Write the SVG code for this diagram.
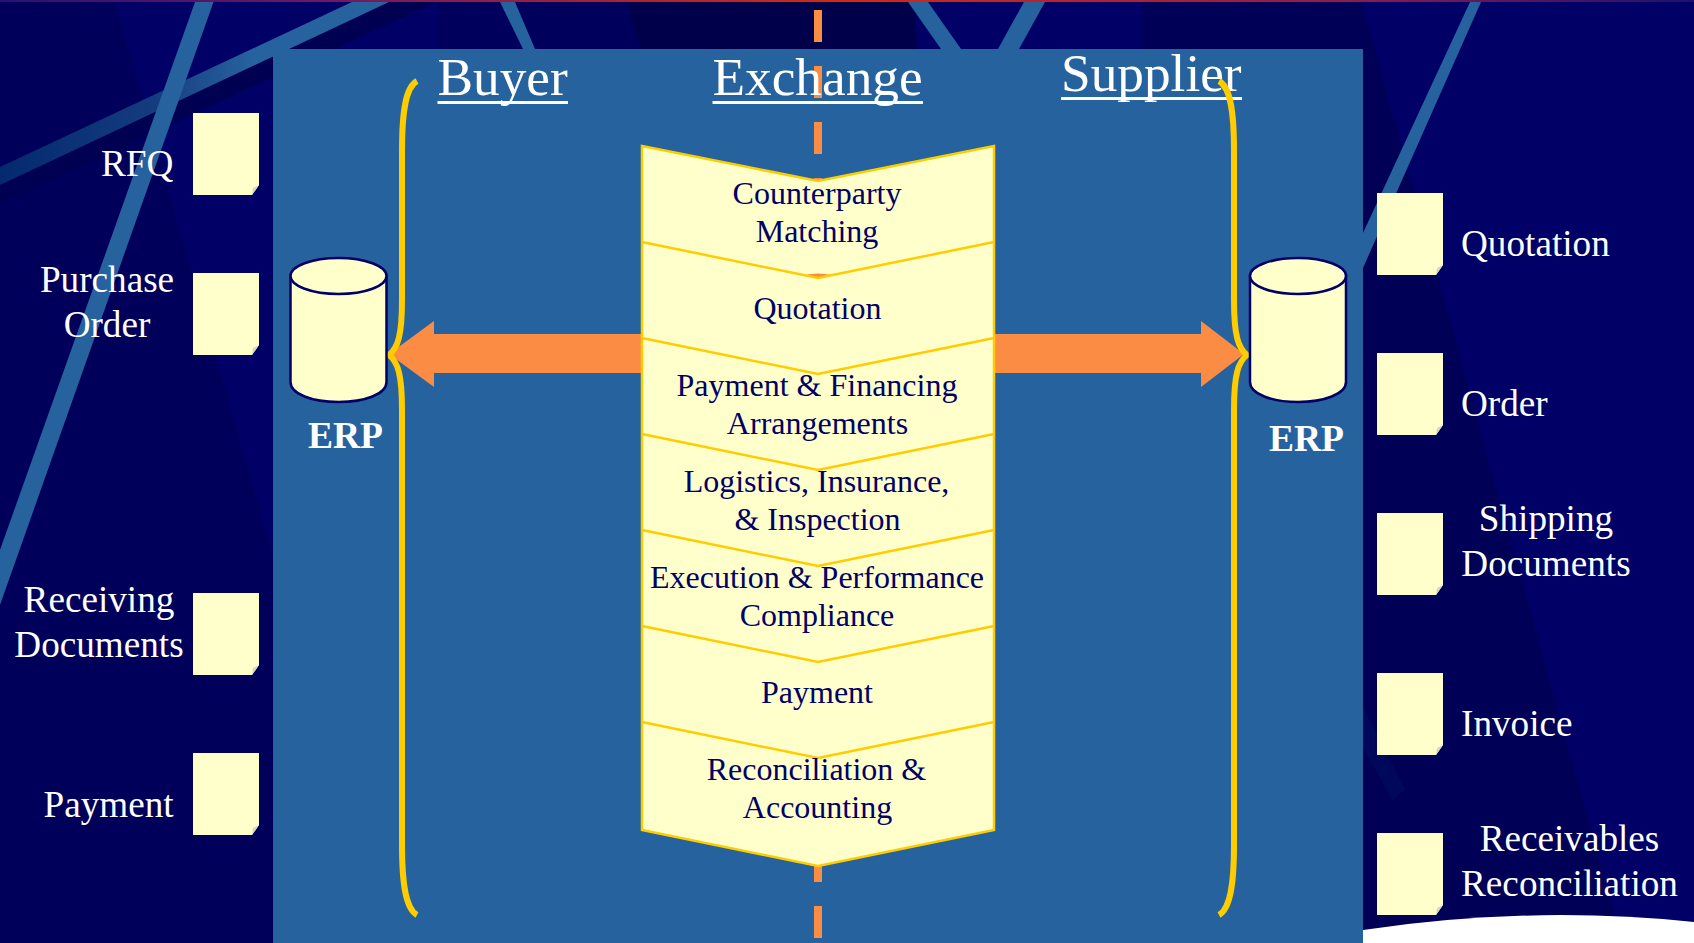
<svg xmlns="http://www.w3.org/2000/svg" xmlns:xlink="http://www.w3.org/1999/xlink" width="1694" height="943" viewBox="0 0 1694 943">
<style>
text{font-family:"Liberation Serif","Times New Roman",serif}
.lab{font-size:37.200px;fill:#fff}
.hd{font-size:53.300px;fill:#fff}
.ul{stroke:#fff;stroke-width:3}
.erp{font-size:37.500px;font-weight:bold;fill:#fff}
.st{font-size:32px;fill:#000066;text-anchor:middle}
.m{text-anchor:middle}
.bar{fill:#26639e}
.sep{fill:none;stroke:#ffcc00;stroke-width:2.5}
.brace{fill:none;stroke:#ffcc00;stroke-width:6;stroke-linecap:butt}
.cyl{fill:#ffffcc;stroke:#000066;stroke-width:2.5}
.arrow{fill:#fb8c44}
</style>
<defs>
<linearGradient id="strip" x1="0" x2="1" y1="0" y2="0"><stop offset="0" stop-color="#2a1070"/><stop offset=".2" stop-color="#701a60"/><stop offset=".5" stop-color="#d42a10"/><stop offset=".8" stop-color="#8a1c50"/><stop offset="1" stop-color="#200f70"/></linearGradient>
<linearGradient id="bar2" x1="0" x2="1" y1="0" y2="0"><stop offset="0" stop-color="#03296e"/><stop offset=".4" stop-color="#163c80"/><stop offset=".65" stop-color="#26639e"/><stop offset="1" stop-color="#26639e"/></linearGradient>
<g id="doc"><path d="M0 0H66V72L59 82H0Z" fill="#ffffcc"/><path d="M59 82L66 72L60 75Z" fill="#d8d8bc"/></g>
</defs>
<g id="background">
<rect width="1694" height="943" fill="#000066"/>
<path d="M0 0H114L273 557V943H0Z" fill="#00005a"/>
<path d="M437 0H628L640 49H437Z" fill="#00005c"/>
<path d="M628 2H915L917 49H640Z" fill="#00004a"/>
<path d="M1142 0H1361L1614 913V943H1142Z" fill="#000056"/>
<path d="M389 2H436L0 203V185Z" fill="#000052"/>
<polygon points="352,2 389,2 0,185 0,167" fill="url(#bar2)"/>
<polygon class="bar" points="195,2 213.500,2 0,605 0,550"/>
<polygon class="bar" points="500,2 515,2 535,49 523,49"/>
<polygon class="bar" points="908,2 928,2 961,49 941,49"/>
<polygon class="bar" points="1024,2 1045,2 1019,49 998,49"/>
<polygon class="bar" points="1470,2 1481,2 1363,268 1363,233"/>
<polygon points="1363,707 1405,790 1392,800 1363,747" fill="#00085c"/>
<rect width="1694" height="2" fill="url(#strip)"/>
<path d="M1363 930Q1530 905 1694 922V943H1363Z" fill="#fff"/>
<rect x="273" y="49" width="1090" height="894" fill="#26639e"/>
</g>
<g id="connectors">
<line id="divider" x1="818" y1="10" x2="818" y2="938" stroke="#fb8c44" stroke-width="8" stroke-dasharray="32 24"/>
<polygon id="arrow-left" class="arrow" points="642,334 434,334 434,321 389,354 434,387 434,373 642,373"/>
<polygon id="arrow-right" class="arrow" points="994,334 1201,334 1201,321 1244,354 1201,387 1201,373 994,373"/>
</g>
<g id="headers">
<text class="hd" x="437.500" y="94.500">Buyer</text><line class="ul" x1="437.500" y1="102.500" x2="568" y2="102.500"/>
<text class="hd" x="712.500" y="94.500">Exchange</text><line class="ul" x1="712.500" y1="102.500" x2="923" y2="102.500"/>
<text class="hd" x="1061" y="91">Supplier</text><line class="ul" x1="1061" y1="98.500" x2="1242" y2="98.500"/>
</g>
<g id="buyer-brace"><path class="brace" d="M417 81C406 87 402 110 402 150V300C402 335 398 348 389 355C398 362 402 375 402 410V845C402 885 406 909 417 915"/></g>
<g id="supplier-brace"><path class="brace" d="M1219 81C1230 87 1234 110 1234 150V300C1234 335 1238 348 1247 355C1238 362 1234 375 1234 410V845C1234 885 1230 909 1219 915"/></g>
<g id="erp-buyer">
<path class="cyl" d="M290.500 276V382C290.500 394 312 402 338.500 402S386.500 394 386.500 382V276Z"/>
<ellipse class="cyl" cx="338.500" cy="276" rx="48" ry="18"/>
<text class="erp" x="308" y="448">ERP</text>
</g>
<g id="erp-supplier">
<path class="cyl" d="M1250 276V382C1250 394 1272 402 1298 402S1346 394 1346 382V276Z"/>
<ellipse class="cyl" cx="1298" cy="276" rx="48" ry="18"/>
<text class="erp" x="1269" y="451">ERP</text>
</g>
<g id="process">
<path d="M642 146L818 181L994 146V830L818 866L642 830Z" fill="#ffffcc" stroke="#ffcc00" stroke-width="2.500" stroke-linejoin="miter"/>
<path d="M804 275Q818 272 832 275L818 278Z" fill="#fb8c44"/>
<path class="sep" d="M642 242L818 278L994 242"/>
<path class="sep" d="M642 338L818 374L994 338"/>
<path class="sep" d="M642 434L818 470L994 434"/>
<path class="sep" d="M642 530L818 566L994 530"/>
<path class="sep" d="M642 626L818 662L994 626"/>
<path class="sep" d="M642 722L818 758L994 722"/>
<g id="step-counterparty"><text class="st" x="817" y="203.500">Counterparty</text><text class="st" x="817" y="241.500">Matching</text></g>
<g id="step-quotation"><text class="st" x="817.500" y="319">Quotation</text></g>
<g id="step-financing"><text class="st" x="817" y="396">Payment &amp; Financing</text><text class="st" x="817.500" y="434">Arrangements</text></g>
<g id="step-logistics"><text class="st" x="816.500" y="492">Logistics, Insurance,</text><text class="st" x="817.500" y="530">&amp; Inspection</text></g>
<g id="step-execution"><text class="st" x="817" y="588">Execution &amp; Performance</text><text class="st" x="817" y="626">Compliance</text></g>
<g id="step-payment"><text class="st" x="817" y="703">Payment</text></g>
<g id="step-reconciliation"><text class="st" x="816.500" y="780">Reconciliation &amp;</text><text class="st" x="817.500" y="818">Accounting</text></g>
</g>
<g id="doc-rfq"><use href="#doc" x="193" y="113"/><text class="lab" x="101" y="176">RFQ</text></g>
<g id="doc-po"><use href="#doc" x="193" y="273"/><text class="lab m" x="107" y="291.500">Purchase</text><text class="lab m" x="107" y="336.500">Order</text></g>
<g id="doc-receiving"><use href="#doc" x="193" y="593"/><text class="lab m" x="99" y="611.500">Receiving</text><text class="lab m" x="99" y="656.500">Documents</text></g>
<g id="doc-payment"><use href="#doc" x="193" y="753"/><text class="lab" x="43.500" y="816.500">Payment</text></g>
<g id="doc-quotation"><use href="#doc" x="1377" y="193"/><text class="lab" x="1461" y="256">Quotation</text></g>
<g id="doc-order"><use href="#doc" x="1377" y="353"/><text class="lab" x="1461" y="416">Order</text></g>
<g id="doc-shipping"><use href="#doc" x="1377" y="513"/><text class="lab m" x="1546" y="531">Shipping</text><text class="lab m" x="1546" y="576">Documents</text></g>
<g id="doc-invoice"><use href="#doc" x="1377" y="673"/><text class="lab" x="1461" y="736">Invoice</text></g>
<g id="doc-receivables"><use href="#doc" x="1377" y="833"/><text class="lab m" x="1569.500" y="851">Receivables</text><text class="lab m" x="1569.500" y="896">Reconciliation</text></g>
</svg>
